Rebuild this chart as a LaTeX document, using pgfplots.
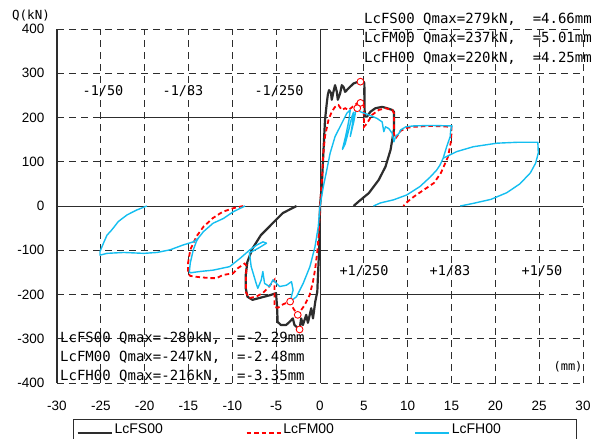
\documentclass[border=0pt]{standalone}
\usepackage{pgfplots}
\pgfplotsset{compat=1.18}
\usepackage{fontspec}
\setmainfont{Liberation Sans}
\newfontfamily\monof{DejaVu Sans Mono}
\definecolor{blk}{RGB}{45,45,45}
\definecolor{cyn}{RGB}{20,190,240}
\definecolor{rd}{RGB}{255,0,0}
\begin{document}
\begin{tikzpicture}
\useasboundingbox (0pt,0pt) rectangle (597pt,439pt);
\begin{axis}[
 at={(57pt,56pt)}, anchor=south west, scale only axis, width=526pt, height=354pt,
 xmin=-30,xmax=30,ymin=-400,ymax=400, clip=false,
 xtick={-30,-25,...,30}, ytick={-400,-300,...,400},
 xticklabels={-30,-25,-20,-15,-10,-5,0,5,10,15,20,25,30},
 yticklabels={-400,-300,-200,-100,0,100,200,300,400},
 major tick length=0pt,
 xticklabel style={font=\fontsize{13.5}{14}\selectfont, yshift=-15pt},
 yticklabel style={font=\fontsize{13.5}{14}\selectfont, xshift=-9pt},
 grid=major,
 major grid style={blk, line width=0.8pt, dash pattern=on 7pt off 5pt},
 axis line style={draw=none},
 legend columns=3,
 legend image code/.code={\draw[#1] (0pt,0pt) -- (34pt,0pt);},
 legend style={at={(axis description cs:0.0304,-0.1017)}, anchor=north west, draw=blk, line width=0.9pt, font=\fontsize{14}{16}\selectfont, inner xsep=3pt, inner ysep=2pt},
 legend cell align=left,
]
% reference lines
\addplot[blk, line width=1.2pt, forget plot] coordinates {(-30,-400) (-30,400)};
\addplot[blk, line width=0.9pt, forget plot] coordinates {(0,-400) (0,400)};
\addplot[blk, line width=0.9pt, forget plot] coordinates {(-30,0) (30,0)};
\addplot[blk, line width=0.9pt, forget plot] coordinates {(-25,200) (0,200)};
\addplot[blk, line width=1.8pt, forget plot] coordinates {(-5,200) (0,200)};
\addplot[blk, line width=0.9pt, forget plot] coordinates {(0,-200) (25,-200)};
\addplot[blk, line width=0.9pt, forget plot] coordinates {(-15,191) (-15,209)};
\addplot[blk, line width=0.9pt, forget plot] coordinates {(15,-209) (15,-191)};
% LcFS00
\addplot[blk, line width=2.2pt, line join=round] coordinates {
(0,0) (0.2,44) (0.38,119) (0.57,194) (0.77,232) (0.89,251) (1.03,262) (1.26,255) (1.34,240) (1.53,258) (1.72,273) (1.92,258) (2.03,240) (2.30,255) (2.49,273) (2.68,269) (2.87,258) (3.26,266) (3.83,277) (4.40,281) (4.98,281) (5.06,277) (5.10,202) (5.37,202) (5.75,213) (6.32,221) (7.09,224) (7.66,221) (8.24,217) (8.43,213) (8.43,172) (8.05,127) (7.47,89) (6.70,59) (5.56,29) (4.40,10) (3.83,0)};
\addlegendentry[text width=129pt, text depth=9pt]{LcFS00}
\addplot[blk, line width=2.2pt, line join=round, forget plot] coordinates {
(-2.68,0) (-4.25,-16) (-5.6,-43) (-6.75,-66) (-7.7,-96) (-8.28,-126) (-8.47,-156) (-8.47,-186) (-8.28,-205) (-7.7,-212) (-7.13,-209) (-6.36,-205) (-5.6,-201) (-5.02,-197) (-4.91,-224) (-4.83,-262) (-4.45,-269) (-3.87,-269) (-3.48,-262) (-3.10,-254) (-2.91,-269) (-2.33,-279) (-2.15,-254) (-1.95,-269) (-1.57,-246) (-1.38,-264) (-1.0,-231) (-0.8,-254) (-0.54,-216) (-0.31,-194) (-0.23,-156) (-0.11,-103) (-0.03,-43) (0,0)};
% LcFM00
\addplot[rd, line width=1.8pt, dash pattern=on 4.5pt off 3pt] coordinates {
(0,0) (0.2,52) (0.38,119) (0.57,157) (0.96,194) (1.34,213) (1.72,224) (2.11,228) (2.49,217) (2.87,221) (3.26,217) (3.64,223) (4.22,232) (4.60,233) (4.98,228) (5.02,179) (5.37,187) (5.95,206) (6.70,217) (7.47,221) (8.24,217) (8.43,210) (8.43,164) (8.6,152) (9.2,170) (10.0,177) (10.7,179) (12.6,181) (15.0,179) (15.0,165) (14.9,142) (14.6,111) (13.8,75) (13.0,52) (11.8,36) (10.7,21) (10.0,10) (9.5,0)};
\addlegendentry[text width=129pt, text depth=9pt]{LcFM00}
\addplot[rd, line width=1.8pt, dash pattern=on 4.5pt off 3pt, forget plot] coordinates {
(-8.75,0) (-9.9,-5) (-11.1,-13) (-12.2,-27) (-13.3,-47) (-14.1,-69) (-14.8,-99) (-15.05,-129) (-15.05,-152) (-14.8,-158) (-13.7,-161) (-12.5,-163) (-11.8,-163) (-11.1,-156) (-9.9,-152) (-9.4,-141) (-8.6,-130) (-8.4,-135) (-8.45,-165) (-8.45,-195) (-8.08,-208) (-7.3,-205) (-6.55,-197) (-5.98,-186) (-5.2,-167) (-5.2,-205) (-5.2,-228) (-4.8,-230) (-4.2,-222) (-3.45,-216) (-3.0,-233) (-2.54,-246) (-1.75,-224) (-1.18,-201) (-0.8,-171) (-0.54,-141) (-0.31,-103) (-0.15,-66) (0,0)};
% LcFH00
\addplot[cyn, line width=1.4pt, line join=round] coordinates {
(0,0) (0.38,44) (0.77,81) (1.15,119) (1.72,157) (2.49,187) (3.07,210) (3.45,217) (3.30,194) (2.95,160) (2.56,128) (2.87,140) (3.26,170) (3.64,202) (3.83,212) (3.70,185) (3.45,157) (3.85,190) (4.05,212) (4.25,221) (4.6,213) (5.55,206) (6.5,198) (7.09,190) (7.28,168) (7.47,179) (7.85,175) (8.24,164) (8.43,145) (8.62,157) (9.0,164) (9.2,172) (9.8,179) (10.7,181) (12.6,182) (15.05,181) (14.9,170) (14.85,157) (14.45,134) (14.05,108) (13.7,93) (13.3,81) (12.6,66) (11.4,44) (9.9,25) (8.4,14) (6.9,7) (6.1,0)};
\addlegendentry[text width=120pt, text depth=9pt]{LcFH00}
\addplot[cyn, line width=1.4pt, line join=round, forget plot] coordinates {
(14.05,108) (15.6,123) (17.5,134) (20.2,142) (22.5,144) (24.85,144) (24.9,120) (24.6,97) (24.0,75) (22.8,50) (21.3,30) (19.5,15) (17.5,6) (16.0,0)};
\addplot[cyn, line width=1.4pt, line join=round, forget plot] coordinates {
(-19.76,0) (-20.9,-9) (-22.0,-20) (-23.0,-35) (-23.75,-54) (-24.3,-66) (-24.7,-84) (-25.1,-103) (-25.1,-111) (-24.3,-107) (-22.4,-105) (-20.1,-107) (-18.6,-105) (-17.1,-99) (-15.6,-88) (-14.45,-81) (-13.9,-73) (-13.3,-58) (-12.2,-39) (-11.0,-28) (-9.9,-13) (-8.55,0)};
\addplot[cyn, line width=1.4pt, line join=round, forget plot] coordinates {
(-13.9,-73) (-14.1,-80) (-14.45,-99) (-14.8,-129) (-14.9,-148) (-14.8,-151) (-13.7,-148) (-12.2,-145) (-10.3,-137) (-9.1,-118) (-8.0,-99) (-7.2,-88) (-6.5,-81) (-6.1,-84) (-7.0,-95) (-8.05,-106) (-7.85,-137) (-7.28,-175) (-7.09,-186) (-6.7,-167) (-6.52,-148) (-6.32,-175) (-5.75,-182) (-5.37,-167) (-4.6,-182) (-3.83,-179) (-3.25,-171) (-3.07,-190) (-3.41,-216) (-2.68,-205) (-1.92,-175) (-1.15,-137) (-0.57,-92) (-0.2,-47) (0,0)};
% peak markers
\addplot[only marks, mark=*, mark size=3.4pt, forget plot, mark options={draw=rd, fill=white, line width=0.9pt}] coordinates {
(4.61,281) (4.61,233) (4.25,221) (-2.33,-279) (-2.54,-246) (-3.41,-216)};
\end{axis}
\node[anchor=west, font=\monof\fontsize{14}{16}\selectfont, inner sep=0pt] at (364pt,420pt) {LcFS00 Qmax=279kN,~~=4.66mm};
\node[anchor=west, font=\monof\fontsize{14}{16}\selectfont, inner sep=0pt] at (364pt,401pt) {LcFM00 Qmax=237kN,~~=5.01mm};
\node[anchor=west, font=\monof\fontsize{14}{16}\selectfont, inner sep=0pt] at (364pt,381pt) {LcFH00 Qmax=220kN,~~=4.25mm};
\node[anchor=west, font=\monof\fontsize{14}{16}\selectfont, inner sep=0pt] at (60pt,101pt) {LcFS00 Qmax=-280kN,~~=-2.29mm};
\node[anchor=west, font=\monof\fontsize{14}{16}\selectfont, inner sep=0pt] at (60pt,82pt) {LcFM00 Qmax=-247kN,~~=-2.48mm};
\node[anchor=west, font=\monof\fontsize{14}{16}\selectfont, inner sep=0pt] at (60pt,63pt) {LcFH00 Qmax=-216kN,~~=-3.35mm};
\node[font=\monof\fontsize{12.5}{14}\selectfont, inner sep=0pt] at (31pt,423pt) {Q(kN)};
\node[font=\monof\fontsize{12}{14}\selectfont, inner sep=0pt] at (568pt,72pt) {(mm)};
\node[font=\monof\fontsize{13.5}{16}\selectfont, inner sep=0pt] at (103pt,348pt) {-1/50};
\node[font=\monof\fontsize{13.5}{16}\selectfont, inner sep=0pt] at (183pt,348pt) {-1/83};
\node[font=\monof\fontsize{13.5}{16}\selectfont, inner sep=0pt] at (279pt,348pt) {-1/250};
\node[font=\monof\fontsize{13.5}{16}\selectfont, inner sep=0pt] at (364pt,168pt) {+1/250};
\node[font=\monof\fontsize{13.5}{16}\selectfont, inner sep=0pt] at (450pt,168pt) {+1/83};
\node[font=\monof\fontsize{13.5}{16}\selectfont, inner sep=0pt] at (542pt,168pt) {+1/50};
\end{tikzpicture}
\end{document}
